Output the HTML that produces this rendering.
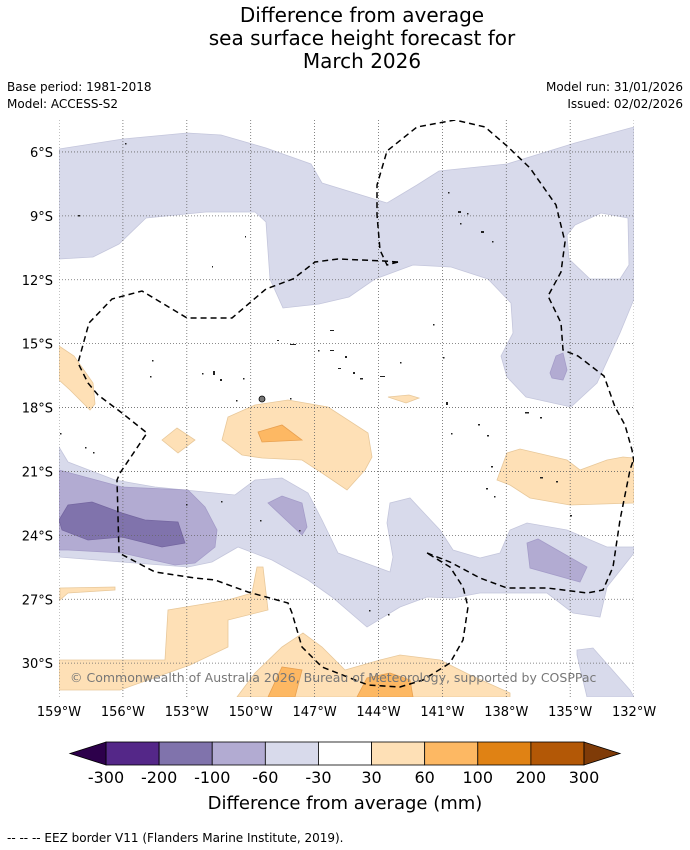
<!DOCTYPE html>
<html><head><meta charset="utf-8"><style>
html,body{margin:0;padding:0;background:#fff;width:690px;height:850px;overflow:hidden;font-family:"Liberation Sans","DejaVu Sans",sans-serif}
svg{position:absolute;left:0;top:0}
</style></head><body>
<svg id="fig" width="690" height="850" viewBox="0 0 690 850">
<g font-family="DejaVu Sans, Liberation Sans, sans-serif" fill="#000">
<text x="362" y="22" font-size="20" text-anchor="middle">Difference from average</text>
<text x="362" y="45" font-size="20" text-anchor="middle">sea surface height forecast for</text>
<text x="362" y="68" font-size="20" text-anchor="middle">March 2026</text>
<text x="7" y="91" font-size="12">Base period: 1981-2018</text>
<text x="7" y="108" font-size="12">Model: ACCESS-S2</text>
<text x="683" y="91" font-size="12" text-anchor="end">Model run: 31/01/2026</text>
<text x="683" y="108" font-size="12" text-anchor="end">Issued: 02/02/2026</text>
</g>
<defs><clipPath id="mapclip"><rect x="59" y="120" width="575" height="577"/></clipPath></defs>
<g clip-path="url(#mapclip)">
<rect x="59" y="120" width="575" height="577" fill="#fff"/>
<g stroke-width="0.8">
<polygon fill="#d8daeb" stroke="#c4c6dc" points="59,149 123,139 187,133 221,135 266,148 311,164 322,183 387,203 417,185 439,171 507,164 575,143 634,127 634,299 620,333 597,383 571,407 526,397 507,377 501,356 513,333 511,303 488,279 451,267 413,265 375,279 349,297 319,304 283,308 270,279 266,222 255,212 206,212 146,218 119,244 93,257 59,259"/>
<polygon fill="#fff" stroke="#c4c6dc" points="575,225 601,213 628,218 629,265 620,279 590,279 569,259 567,235"/>
<polygon fill="#b2abd2" stroke="#a49cc8" points="556,356 563,353 567,370 563,380 552,378 550,373"/>
<polygon fill="#d8daeb" stroke="#c4c6dc" points="59,447 68,462 115,480 155,487 235,495 255,480 282,478 308,493 322,520 338,553 390,572 393,557 387,523 390,503 410,498 440,530 453,550 480,558 500,553 510,530 527,523 567,530 607,547 634,547 634,553 607,587 600,617 573,613 547,593 480,593 453,598 427,597 400,607 367,627 332,597 308,580 272,560 238,547 212,562 188,567 122,562 59,557"/>
<polygon fill="#b2abd2" stroke="#a49cc8" points="59,470 122,487 188,490 205,507 217,530 215,547 195,563 175,565 122,553 68,550 59,550"/>
<polygon fill="#8073ac" stroke="#7466a0" points="59,520 68,505 92,502 122,513 145,520 178,522 185,543 162,547 122,537 88,540 62,530"/>
<polygon fill="#b2abd2" stroke="#a49cc8" points="268,503 282,496 302,503 307,527 302,535"/>
<polygon fill="#b2abd2" stroke="#a49cc8" points="527,543 538,539 587,567 580,582 530,568"/>
<polygon fill="#d8daeb" stroke="#c4c6dc" points="577,650 593,648 630,690 634,697 587,697 577,655"/>
<polygon fill="#fee0b6" stroke="#e8c89a" points="59,346 74,356 93,383 95,404 90,410 70,390 59,380"/>
<polygon fill="#fee0b6" stroke="#e8c89a" points="162,440 177,428 195,440 178,453"/>
<polygon fill="#fee0b6" stroke="#e8c89a" points="222,440 228,417 255,405 288,400 328,407 368,433 372,457 365,470 347,490 322,473 302,460 262,458 242,455"/>
<polygon fill="#fdb863" stroke="#e8a050" points="258,432 282,425 302,440 262,442"/>
<polygon fill="#fee0b6" stroke="#e8c89a" points="388,397 409,395 419,398 406,403"/>
<polygon fill="#fee0b6" stroke="#e8c89a" points="497,480 507,453 520,449 567,460 580,470 607,460 623,457 634,458 634,503 570,505 530,498 510,485"/>
<polygon fill="#fee0b6" stroke="#e8c89a" points="60,588 115,587 115,590 68,593 60,600"/>
<polygon fill="#fee0b6" stroke="#e8c89a" points="59,660 165,660 168,610 228,600 252,593 257,567 263,567 268,610 228,620 228,647 190,665 148,680 120,690 59,690"/>
<polygon fill="#fee0b6" stroke="#e8c89a" points="237,697 255,673 282,647 303,633 322,647 345,670 380,660 400,655 440,660 470,675 510,693 510,697"/>
<polygon fill="#fdb863" stroke="#e8a050" points="268,697 282,667 302,670 295,697"/>
<polygon fill="#fdb863" stroke="#e8a050" points="357,697 367,678 390,673 410,680 413,697"/>
</g>
<g id="grid" stroke="#666" stroke-width="0.8" stroke-dasharray="1,2"></g>
<g fill="none" stroke="#000" stroke-width="1.5" stroke-dasharray="6,4">
<polyline points="398,262 387,265 380,250 377,215 377,185 387,151 417,127 455,120 485,127 507,146 530,168 556,205 565,242 561,272 548,296 561,323 563,350 578,356 604,376 615,407 625,425 632,450 634,462"/>
<polyline points="398,262 384,261 338,259 315,262 293,279 266,289 232,318 187,318 142,291 112,299 89,323 78,363 88,383 98,395 122,413 147,433 120,473 117,480 119,553 155,572 195,578 215,580 248,592 288,603 292,613 302,647 322,667 368,685 400,687 423,680 450,663 463,640 468,607 463,587 450,567 427,553"/>
<polyline points="427,553 450,562 480,578 507,588 547,588 587,593 603,590 613,567 620,520 630,470 634,458"/>
</g>
<g fill="#222">
<rect x="125" y="143" width="1.5" height="1.5"/><rect x="78" y="215" width="2" height="1.5"/><rect x="245" y="236" width="1" height="1.5"/><rect x="212" y="266" width="1" height="1.5"/>
<rect x="448" y="192" width="1.5" height="1.5"/><rect x="458" y="211" width="3" height="2"/><rect x="467" y="213" width="1.5" height="1.5"/><rect x="460" y="223" width="1.5" height="1.5"/><rect x="481" y="231" width="3" height="2"/><rect x="492" y="241" width="1.5" height="1.5"/>
<rect x="330" y="330" width="4" height="1"/><rect x="277" y="340" width="2" height="1"/><rect x="290" y="344" width="6" height="1"/><rect x="318" y="350" width="1.5" height="1.5"/><rect x="330" y="350" width="4" height="1"/><rect x="345" y="356" width="2" height="2"/><rect x="338" y="368" width="3" height="1"/><rect x="353" y="372" width="2" height="2"/><rect x="360" y="378" width="3" height="1.5"/><rect x="380" y="376" width="5" height="1"/><rect x="400" y="362" width="1.5" height="1.5"/><rect x="433" y="324" width="1.5" height="1.5"/><rect x="443" y="357" width="1.5" height="1.5"/>
<rect x="152" y="360" width="1.5" height="1.5"/><rect x="150" y="376" width="1.5" height="1.5"/><rect x="202" y="373" width="1.5" height="1.5"/><rect x="213" y="371" width="2" height="4"/><rect x="220" y="379" width="2" height="2"/><rect x="243" y="378" width="1.5" height="1.5"/>
<circle cx="262" cy="399" r="3" fill="#777" stroke="#000" stroke-width="0.8"/><rect x="236" y="400" width="1.5" height="1.5"/><rect x="290" y="398" width="1.5" height="1.5"/>
<rect x="446" y="402" width="2" height="3"/><rect x="478" y="424" width="2" height="1.5"/><rect x="487" y="435" width="2" height="1.5"/><rect x="451" y="433" width="1.5" height="1.5"/><rect x="525" y="412" width="4" height="1.5"/><rect x="540" y="417" width="2" height="1.5"/>
<rect x="85" y="447" width="1.5" height="1.5"/><rect x="93" y="452" width="1.5" height="1.5"/><rect x="60" y="433" width="1.5" height="1.5"/><rect x="491" y="466" width="2" height="1.5"/><rect x="486" y="488" width="2" height="1.5"/><rect x="494" y="496" width="1.5" height="1.5"/><rect x="570" y="515" width="2" height="1.5"/><rect x="540" y="477" width="3" height="1.5"/><rect x="556" y="481" width="2" height="1.5"/>
<rect x="186" y="504" width="1.5" height="1.5"/><rect x="221" y="501" width="1.5" height="1.5"/><rect x="260" y="520" width="1.5" height="1.5"/><rect x="299" y="530" width="1.5" height="1.5"/><rect x="369" y="610" width="1.5" height="1.5"/><rect x="388" y="614" width="1.5" height="1.5"/>
</g>
<text x="70" y="682" font-size="12.5" fill="#777" font-family="DejaVu Sans, Liberation Sans, sans-serif">© Commonwealth of Australia 2026, Bureau of Meteorology, supported by COSPPac</text>
</g>
<g id="xticks" font-family="DejaVu Sans, Liberation Sans, sans-serif" font-size="13"></g>
<g id="yticks" font-family="DejaVu Sans, Liberation Sans, sans-serif" font-size="13"></g>
<g id="cbar"></g>
<text x="345" y="809" font-size="18" text-anchor="middle" font-family="DejaVu Sans, Liberation Sans, sans-serif">Difference from average (mm)</text>
<text x="7" y="842" font-size="12" font-family="DejaVu Sans, Liberation Sans, sans-serif">--  --  -- EEZ border V11 (Flanders Marine Institute, 2019).</text>
</svg>
<script>
const lonTicks = [159,156,153,150,147,144,141,138,135,132];
const latTicks = [6,9,12,15,18,21,24,27,30];
const levelLabels = ["-300","-200","-100","-60","-30","30","60","100","200","300"];
const binColors = ["#542788","#8073ac","#b2abd2","#d8daeb","#ffffff","#fee0b6","#fdb863","#e08214","#b35806"];
const extendColors = ["#2d004b","#7f3b08"];
const NS="http://www.w3.org/2000/svg";
const x0=59, pxPerDeg=21.3, latTop=4.5, y0=120;
function xLon(w){return x0+(159-w)*pxPerDeg;}
function yLat(s){return y0+(s-latTop)*pxPerDeg;}
function mk(tag,attrs,parent){const e=document.createElementNS(NS,tag);for(const k in attrs)e.setAttribute(k,attrs[k]);parent.appendChild(e);return e;}
const grid=document.getElementById('grid');
lonTicks.forEach(function(w){
  const l=mk('line',{x1:xLon(w),x2:xLon(w),y1:120,y2:697},grid);
  
  
  const t=mk('text',{x:xLon(w),y:716,'text-anchor':'middle'},document.getElementById('xticks'));
  t.textContent=w+'°W';
  
  
});
latTicks.forEach(function(s){
  const l=mk('line',{x1:59,x2:634,y1:yLat(s),y2:yLat(s)},grid);
  
  
  const t=mk('text',{x:53,y:yLat(s)+5,'text-anchor':'end'},document.getElementById('yticks'));
  t.textContent=s+'°S';
  
  
});
const cb=document.getElementById('cbar');
const cbL=106, cbR=584, cbT=742, cbB=765, nb=binColors.length, bw=(cbR-cbL)/nb;
binColors.forEach(function(c,i){
  const r=mk('rect',{x:cbL+i*bw,y:cbT,width:bw,height:cbB-cbT,fill:c,stroke:'#000','stroke-width':0.8},cb);
  
  
});
const tl=mk('polygon',{points:(cbL)+','+cbT+' '+(cbL)+','+cbB+' 70,'+((cbT+cbB)/2),fill:extendColors[0],stroke:'#000','stroke-width':0.8},cb);


const tr=mk('polygon',{points:(cbR)+','+cbT+' '+(cbR)+','+cbB+' 620,'+((cbT+cbB)/2),fill:extendColors[1],stroke:'#000','stroke-width':0.8},cb);


levelLabels.forEach(function(s,i){
  const t=mk('text',{x:cbL+i*bw,y:783,'text-anchor':'middle','font-size':16,'font-family':'DejaVu Sans, Liberation Sans, sans-serif'},cb);
  t.textContent=s;
  
  
});
</script>
</body></html>
